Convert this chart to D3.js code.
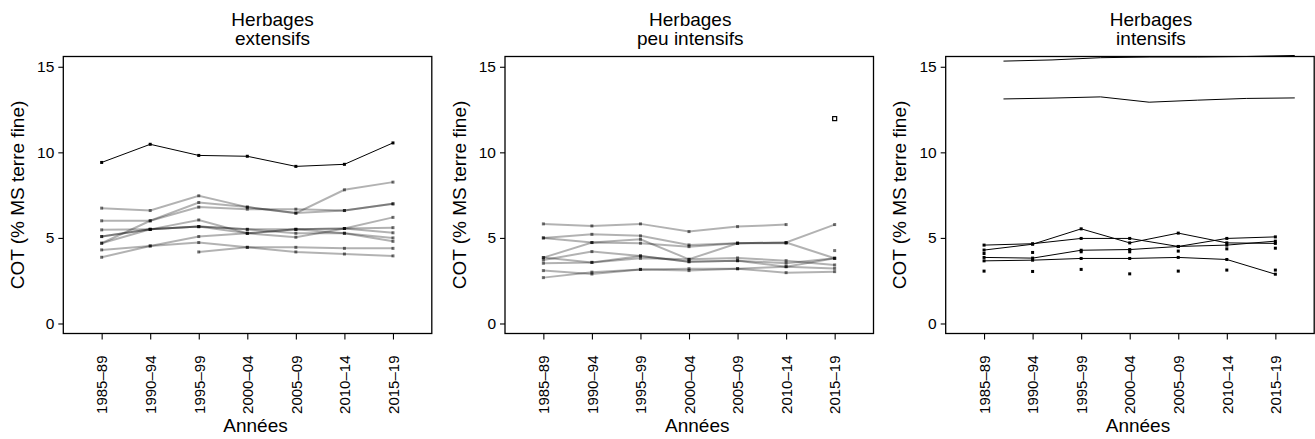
<!DOCTYPE html>
<html>
<head>
<meta charset="utf-8">
<script src="https://cdn.jsdelivr.net/npm/d3@7"></script>
<style>
  html, body { margin: 0; padding: 0; background: #fff; }
  svg { display: block; font-family: "Liberation Sans", Arial, Helvetica, sans-serif; }
</style>
</head>
<body>
<svg id="chart" width="1315" height="439"></svg>
<script>
// ---------- data ----------
const periods = ["1985–89", "1990–94", "1995–99", "2000–04", "2005–09", "2010–14", "2015–19"];
const yTicks = [0, 5, 10, 15];
const titles = [["Herbages", "extensifs"], ["Herbages", "peu intensifs"], ["Herbages", "intensifs"]];
const yLabel = "COT (% MS terre fine)";
const xLabel = "Années";

// Panel 1 : Herbages extensifs
const ext_black = [9.41, 10.47, 9.82, 9.77, 9.18, 9.30, 10.55];
const ext_grey = [
  [6.74, 6.60, 7.46, 6.80, 6.45, 7.81, 8.26],
  [4.69, 6.00, 6.80, 6.68, 6.68, 6.60, 6.99],
  [6.00, 6.00, 7.07, 6.80, 6.45, 6.60, 6.99],
  [5.47, 5.50, 6.05, 5.27, 5.50, 5.55, 5.30],
  [5.08, 5.50, 5.66, 5.50, 5.27, 5.27, 5.00],
  [5.08, 5.50, 5.66, 5.27, 5.04, 5.55, 5.60],
  [4.30, 4.53, 5.08, 5.27, 5.50, 5.27, 4.80],
  [3.87, 4.53, 4.73, 4.45, 4.45, 4.39, 4.39],
  [null, null, 4.18, 4.45, 4.18, 4.06, 3.95],
  [4.69, 5.50, 5.66, 5.50, 5.50, 5.55, 6.20]
];

// Panel 2 : Herbages peu intensifs
const peu_grey = [
  [5.82, 5.70, 5.82, 5.37, 5.66, 5.78, null],
  [5.00, 5.21, 5.12, 4.59, 4.69, 4.73, 5.78],
  [5.00, 4.73, 4.92, 3.75, 4.69, 4.69, null],
  [3.85, 4.73, 4.69, 4.49, 4.69, 4.73, 3.81],
  [3.71, 4.20, 3.95, 3.61, 3.67, 3.52, 3.81],
  [3.52, 3.57, 3.81, 3.75, 3.83, 3.67, 3.42],
  [3.09, 2.89, 3.16, 3.09, 3.20, 2.97, 3.03],
  [2.68, 3.00, 3.16, 3.20, 3.20, 3.32, 3.22],
  [3.85, 3.57, 3.95, 3.61, 3.67, 3.32, 3.81],
  [null, null, null, null, null, null, 4.26]
];
const peu_outlierIndex = 7;      // 2015–19
const peu_outlierValue = 11.97;

// Panel 3 : Herbages intensifs
const int_lines = [
  [4.29, 4.63, 5.53, 4.71, 5.28, 4.71, 4.68],
  [4.58, 4.66, 4.97, 4.97, 4.50, 4.97, 5.06],
  [3.86, 3.82, 4.28, 4.32, 4.50, 4.58, 4.81],
  [3.66, 3.70, 3.80, 3.80, 3.86, 3.74, 2.88]
];
const int_points = [
  [4.09, 4.15, 4.19, 4.19, 4.23, 4.36, 4.40],
  [3.06, 3.04, 3.16, 2.90, 3.06, 3.12, 3.12]
];
const int_shiftX = [1.4, 2.4, 3.4, 4.4, 5.4, 6.4, 7.4];
const int_topLines = [
  [15.33, 15.40, 15.53, 15.57, 15.57, 15.60, 15.66],
  [13.12, 13.17, 13.24, 12.93, 13.05, 13.15, 13.18]
];

// ---------- layout ----------
const svg = d3.select("#chart");
const panelLeft = [63.3, 505, 945.7];
const titleShift = [25, 1, 21];
const plotTop = 56.5, plotW = 368.5, plotH = 277;
const font = "Liberation Sans, Arial, Helvetica, sans-serif";

const defs = svg.append("defs");
defs.append("filter").attr("id", "soft")
  .attr("x", "-5%").attr("y", "-20%").attr("width", "110%").attr("height", "140%")
  .append("feGaussianBlur").attr("stdDeviation", 0.55);

function makePanel(i) {
  const g = svg.append("g").attr("transform", `translate(${panelLeft[i]},${plotTop})`);
  const x = d3.scaleLinear().domain([0.21, 7.8]).range([0, plotW]);
  const y = d3.scaleLinear().domain([-0.585, 15.6]).range([plotH, 0]);

  // box
  g.append("rect").attr("x", 0).attr("y", 0).attr("width", plotW).attr("height", plotH)
    .attr("fill", "none").attr("stroke", "#000").attr("stroke-width", 1.3);

  // y axis
  const ya = d3.axisLeft(y).tickValues(yTicks).tickSize(5).tickPadding(4).tickFormat(d3.format("d"));
  const yg = g.append("g").call(ya);
  yg.select(".domain").remove();
  yg.selectAll("line").attr("stroke", "#000").attr("stroke-width", 1.1);
  yg.selectAll("text").attr("font-family", font).attr("font-size", 15.5).attr("fill", "#000");

  // x axis
  const xa = d3.axisBottom(x).tickValues(d3.range(1, periods.length + 1))
    .tickSize(6).tickFormat(d => periods[d - 1]);
  const xg = g.append("g").attr("transform", `translate(0,${plotH})`).call(xa);
  xg.select(".domain").remove();
  xg.selectAll("line").attr("stroke", "#000").attr("stroke-width", 1.1);
  xg.selectAll("text")
    .attr("font-family", font).attr("font-size", 15).attr("fill", "#000")
    .attr("text-anchor", "end")
    .attr("transform", "rotate(-90)")
    .attr("x", -22).attr("y", 0).attr("dy", "0.35em");

  // titles
  const cx = plotW / 2;
  const t = g.append("text").attr("text-anchor", "middle")
    .attr("font-family", font).attr("font-size", 19).attr("fill", "#000");
  t.append("tspan").attr("x", cx + titleShift[i]).attr("y", 26 - plotTop).text(titles[i][0]);
  t.append("tspan").attr("x", cx + titleShift[i]).attr("y", 45 - plotTop).text(titles[i][1]);

  // axis labels
  g.append("text").attr("text-anchor", "middle")
    .attr("font-family", font).attr("font-size", 19).attr("fill", "#000")
    .attr("transform", `translate(${24 - 63.3},${plotH / 2}) rotate(-90)`)
    .text(yLabel);
  g.append("text").attr("text-anchor", "middle")
    .attr("font-family", font).attr("font-size", 19).attr("fill", "#000")
    .attr("x", cx + 8).attr("y", 432 - plotTop)
    .text(xLabel);

  return { g, x, y };
}

function drawLine(p, values, opts) {
  const xs = opts.xs || values.map((_, k) => k + 1);
  const pts = values.map((v, k) => ({ x: xs[k], v }));
  const line = d3.line().defined(d => d.v != null).x(d => p.x(d.x)).y(d => p.y(d.v));
  const lg = p.g.append("g");
  if (opts.filter) lg.attr("filter", "url(#soft)");
  if (opts.line !== false) {
    lg.append("path").datum(pts).attr("d", line)
      .attr("fill", "none").attr("stroke", opts.color || "#000")
      .attr("stroke-width", opts.width || 1)
      .attr("stroke-opacity", opts.opacity == null ? 1 : opts.opacity);
  }
  if (opts.marker !== false) {
    const s = opts.msize || 3;
    lg.selectAll("rect.m").data(pts.filter(d => d.v != null)).enter().append("rect")
      .attr("x", d => p.x(d.x) - s / 2).attr("y", d => p.y(d.v) - s / 2)
      .attr("width", s).attr("height", s)
      .attr("fill", "#000").attr("fill-opacity", opts.mopacity == null ? 1 : opts.mopacity);
  }
}

// Panel 1
const p1 = makePanel(0);
ext_grey.forEach(s => drawLine(p1, s, { width: 2, opacity: 0.3, mopacity: 0.55, filter: true }));
drawLine(p1, ext_black, { width: 1 });

// Panel 2
const p2 = makePanel(1);
peu_grey.forEach(s => drawLine(p2, s, { width: 2, opacity: 0.3, mopacity: 0.55, filter: true }));
p2.g.append("rect")
  .attr("x", p2.x(peu_outlierIndex) - 2).attr("y", p2.y(peu_outlierValue) - 2)
  .attr("width", 4).attr("height", 4)
  .attr("fill", "#fff").attr("stroke", "#000").attr("stroke-width", 1.2);

// Panel 3
const p3 = makePanel(2);
int_topLines.forEach(s => drawLine(p3, s, { xs: int_shiftX, width: 1, marker: false }));
int_lines.forEach(s => drawLine(p3, s, { width: 1 }));
int_points.forEach(s => drawLine(p3, s, { line: false }));
</script>
</body>
</html>
